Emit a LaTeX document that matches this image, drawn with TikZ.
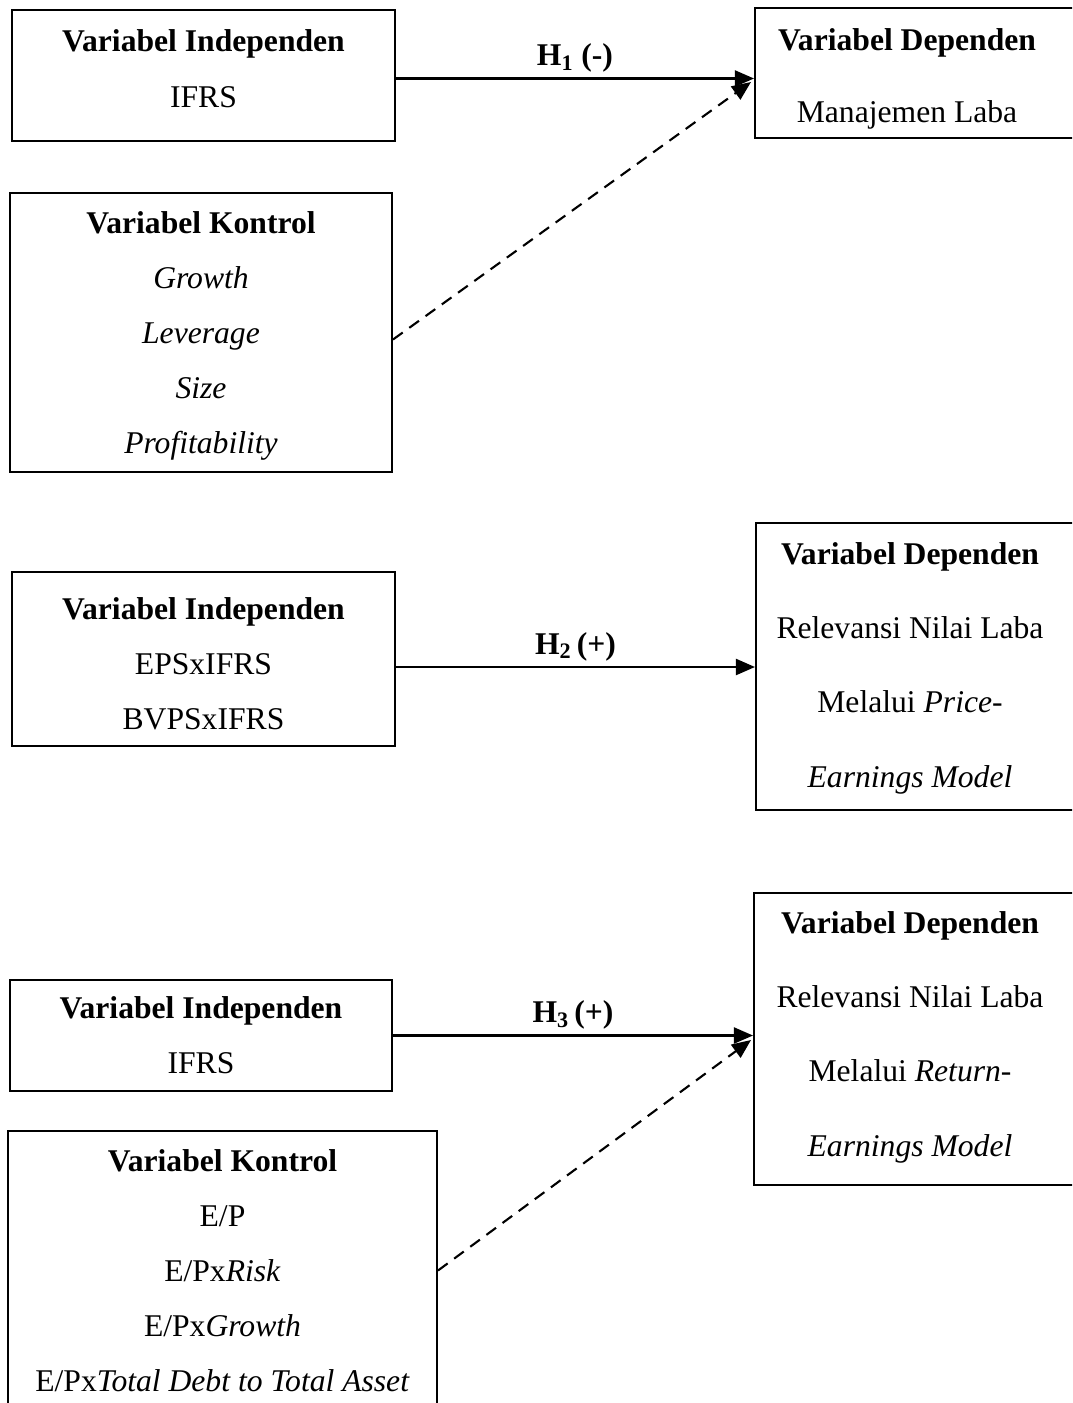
\documentclass[tikz,border=0pt]{standalone}
\usepackage{fontspec}
\setmainfont{Liberation Serif}
\usetikzlibrary{arrows.meta,calc}
\tikzset{
  box/.style={draw, line width=1.2pt, align=center, inner sep=0pt,
    font=\fontsize{18}{31.3}\selectfont},
  txt/.style={align=center, inner sep=0pt, font=\fontsize{18}{31.3}\selectfont},
  hlabel/.style={txt, above=0.1cm},
  hyp/.style={draw, line width=1.2pt, -{Triangle[length=0.38cm,width=0.32cm]}},
  ctrl/.style={hyp, dash pattern=on 6.8pt off 4.6pt},
}
\begin{document}
\begin{tikzpicture}[x=0.02cm, y=-0.02cm]
        \clip (0, 0) rectangle (1072, 1403);
        % first model
        \node[box, minimum width=7.66cm, minimum height=2.62cm, text depth=0.28cm] (indep1) at (203.5, 75.5)
              {\textbf{Variabel Independen}\\[1pt]IFRS};
        \node[box, minimum width=7.64cm, minimum height=5.58cm, text depth=-0.1cm] (kontrol1) at (201, 332.5)
              {\textbf{Variabel Kontrol}\\\textit{Growth}\\\textit{Leverage}\\\textit{Size}\\\textit{Profitability}};
        \node[box, minimum width=6.9cm, minimum height=2.6cm] (dep1) at (927.5, 73) {};
        \node[txt] (dep1t) at (907, 79) {\textbf{Variabel Dependen}\\[10pt]Manajemen Laba};
        \coordinate (tip1) at (751, 82);
        \draw[hyp] ([yshift=-0.06cm]indep1.east) -- node[hlabel] {\textbf{H\textsubscript{1} (-)}}
              ([yshift=-0.06cm]indep1.east -| dep1.west);
        \draw[ctrl] ([yshift=-0.14cm]kontrol1.east) -- (tip1);
        % second model
        \node[box, minimum width=7.66cm, minimum height=3.48cm] (indep2) at (203.5, 659)
              {\rule{0pt}{0.64cm}\textbf{Variabel Independen}\\EPSxIFRS\\BVPSxIFRS};
        \node[box, minimum width=6.88cm, minimum height=5.74cm] (dep2) at (928, 666.5) {};
        \node[txt] (dep2t) at (910, 668)
              {\textbf{Variabel Dependen}\\[11pt]Relevansi Nilai Laba\\[11pt]Melalui \textit{Price-}\\[11pt]\textit{Earnings Model}};
        \draw[hyp] ([yshift=-0.16cm]indep2.east) -- node[hlabel] {\textbf{H\textsubscript{2}\,(+)}}
              ([yshift=-0.16cm]indep2.east -| dep2.west);
        % third model
        \node[box, minimum width=7.64cm, minimum height=2.22cm] (indep3) at (201, 1035.5)
              {\textbf{Variabel Independen}\\IFRS};
        \node[box, minimum width=8.58cm, minimum height=5.58cm] (kontrol2) at (222.5, 1270.5)
              {\textbf{Variabel Kontrol}\\E/P\\E/Px\textit{Risk}\\E/Px\textit{Growth}\\E/Px\textit{Total Debt to Total Asset}};
        \node[box, minimum width=6.92cm, minimum height=5.84cm] (dep3) at (927, 1039) {};
        \node[txt] (dep3t) at (910, 1037)
              {\textbf{Variabel Dependen}\\[11pt]Relevansi Nilai Laba\\[11pt]Melalui \textit{Return-}\\[11pt]\textit{Earnings Model}};
        \coordinate (tip3) at (751, 1040);
        \draw[hyp] (indep3.east) -- node[hlabel] {\textbf{H\textsubscript{3}\,(+)}} (indep3.east -| dep3.west);
        \draw[ctrl] (kontrol2.east) -- (tip3);
\end{tikzpicture}
\end{document}
